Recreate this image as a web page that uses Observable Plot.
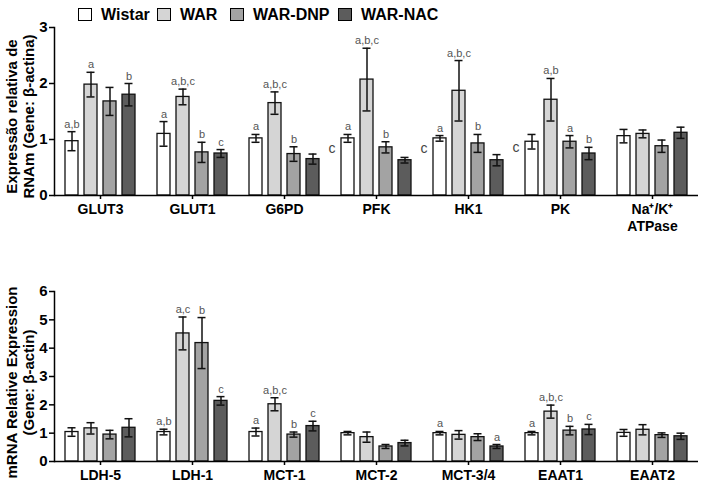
<!DOCTYPE html>
<html><head><meta charset="utf-8">
<script src="https://cdn.jsdelivr.net/npm/d3@7"></script>
<script src="https://cdn.jsdelivr.net/npm/@observablehq/plot@0.6"></script>
<style>
body{margin:0;background:#fff;font-family:"Liberation Sans",Arial,sans-serif;}
#wrap{width:708px;height:487px;position:relative;overflow:hidden;background:#fff}
#legend{height:22px;position:relative;font-weight:bold;font-size:16px;color:#000}
.item{position:absolute;top:7px;display:flex;align-items:center;height:15px;white-space:nowrap}
.sw{width:12px;height:11.5px;border:1.3px solid #000;margin-right:9px;flex:none}
svg{overflow:visible;display:block}
</style></head><body><div id="wrap"><div id="legend"></div><div id="top"></div><div id="bottom"></div></div>
<script>
// ---- shared ----
const groups = ["Wistar", "WAR", "WAR-DNP", "WAR-NAC"];
const groupColors = ["#ffffff", "#d5d5d5", "#a3a3a3", "#5c5c5c"];
const legendLeft = [78, 157, 230, 338];

// ---- top panel ----
const topGenes = ["GLUT3", "GLUT1", "G6PD", "PFK", "HK1", "PK", "Na+/K+ ATPase"];
const topTickLabels = ["GLUT3", "GLUT1", "G6PD", "PFK", "HK1", "PK", "Na\u207A/K\u207A\nATPase"];
const topWistar = [0.97, 1.10, 1.02, 1.02, 1.02, 0.96, 1.06];
const topWAR    = [1.98, 1.76, 1.65, 2.07, 1.87, 1.71, 1.10];
const topDNP    = [1.68, 0.77, 0.74, 0.86, 0.93, 0.96, 0.88];
const topNAC    = [1.80, 0.75, 0.65, 0.63, 0.63, 0.75, 1.12];
const topWistarErr = [0.17, 0.22, 0.07, 0.07, 0.05, 0.13, 0.12];
const topWARErr    = [0.22, 0.14, 0.20, 0.56, 0.54, 0.38, 0.07];
const topDNPErr    = [0.25, 0.18, 0.13, 0.10, 0.16, 0.11, 0.11];
const topNACErr    = [0.20, 0.07, 0.09, 0.05, 0.10, 0.11, 0.10];
const topWistarSig = ["a,b", "a", "a", "a", "a", "", ""];
const topWARSig    = ["a", "a,b,c", "a,b,c", "a,b,c", "a,b,c", "a,b", ""];
const topDNPSig    = ["", "b", "b", "b", "b", "a", ""];
const topNACSig    = ["b", "c", "", "", "", "b", ""];
const topStrayGenes = ["PFK", "HK1", "PK"];
const topStrayText = ["c", "c", "c"];
const topStrayLevel = [0.84, 0.84, 0.85];
const topTitle = "Expressão relativa de\nRNAm (Gene: \u03B2-actina)";
const topTicks = [0, 1, 2, 3];

// ---- bottom panel ----
const botGenes = ["LDH-5", "LDH-1", "MCT-1", "MCT-2", "MCT-3/4", "EAAT1", "EAAT2"];
const botTickLabels = ["LDH-5", "LDH-1", "MCT-1", "MCT-2", "MCT-3/4", "EAAT1", "EAAT2"];
const botWistar = [1.04, 1.04, 1.04, 1.00, 1.00, 1.00, 1.01];
const botWAR    = [1.17, 4.52, 2.02, 0.86, 0.94, 1.76, 1.12];
const botDNP    = [0.95, 4.18, 0.95, 0.53, 0.86, 1.09, 0.93];
const botNAC    = [1.19, 2.14, 1.25, 0.65, 0.53, 1.13, 0.89];
const botWistarErr = [0.15, 0.10, 0.14, 0.06, 0.06, 0.06, 0.12];
const botWARErr    = [0.20, 0.58, 0.23, 0.18, 0.15, 0.23, 0.18];
const botDNPErr    = [0.15, 0.90, 0.09, 0.07, 0.12, 0.15, 0.08];
const botNACErr    = [0.32, 0.15, 0.17, 0.10, 0.07, 0.18, 0.11];
const botWistarSig = ["", "a,b", "a", "", "a", "a", ""];
const botWARSig    = ["", "a,c", "a,b,c", "", "", "a,b,c", ""];
const botDNPSig    = ["", "b", "b", "", "", "b", ""];
const botNACSig    = ["", "c", "c", "", "a", "c", ""];
const botTitle = "mRNA Relative Expression\n(Gene: \u03B2-actin)";
const botTicks = [0, 1, 2, 3, 4, 5, 6];

// ---- legend ----
const legend = d3.select("#legend");
groups.forEach((g, i) => {
  const it = legend.append("div").attr("class", "item").style("left", legendLeft[i] + "px");
  it.append("div").attr("class", "sw").style("background", groupColors[i]);
  it.append("span").text(g);
});

function buildRows(genes, vals, errs, sigs) {
  const rows = [];
  genes.forEach((gene, i) => {
    groups.forEach((group, k) => {
      rows.push({gene, group, value: vals[k][i], err: errs[k][i], sig: sigs[k][i]});
    });
  });
  return rows;
}

function chart(o) {
  const rows = buildRows(o.genes, o.vals, o.errs, o.sigs);
  const strays = (o.strayGenes || []).map((g, i) => ({gene: g, text: o.strayText[i], level: o.strayLevel[i]}));
  return Plot.plot({
    width: 708,
    height: o.height,
    marginLeft: 52,
    marginRight: 8,
    marginTop: o.marginTop,
    marginBottom: o.marginBottom,
    style: {fontFamily: "'Liberation Sans', Arial, sans-serif", color: "#000", background: "transparent", overflow: "visible"},
    fx: {domain: o.genes, padding: 0},
    x: {domain: groups, paddingInner: 0.333, paddingOuter: 0.54, axis: null},
    y: {domain: [0, o.yMax]},
    color: {domain: groups, range: groupColors},
    marks: [
      Plot.barY(rows, {fx: "gene", x: "group", y: "value", fill: "group", stroke: "#111", strokeWidth: 1.3}),
      Plot.ruleX(rows, {fx: "gene", x: "group", y1: d => d.value - d.err, y2: d => d.value + d.err, stroke: "#111", strokeWidth: 1.5}),
      Plot.tickY(rows, {fx: "gene", x: "group", y: d => d.value + d.err, insetLeft: 2.5, insetRight: 2.5, stroke: "#111", strokeWidth: 1.5}),
      Plot.tickY(rows, {fx: "gene", x: "group", y: d => d.value - d.err, insetLeft: 2.5, insetRight: 2.5, stroke: "#111", strokeWidth: 1.5}),
      Plot.text(rows.filter(d => d.sig), {fx: "gene", x: "group", y: d => d.value + d.err, text: "sig", lineAnchor: "bottom", dy: -4, fill: "#555", fontSize: 11}),
      Plot.text(strays, {fx: "gene", x: () => groups[0], y: "level", text: "text", dx: -16, fill: "#444", fontSize: 14}),
      Plot.ruleY([0], {stroke: "#000", strokeWidth: 1.5}),
      Plot.frame({anchor: "left", facet: "super", stroke: "#000", strokeWidth: 1.5}),
      Plot.axisY({ticks: o.ticks, tickSize: 5, tickPadding: 2, tickFormat: d3.format("d"), label: null, fontSize: 15, fontWeight: "bold", strokeWidth: 1.5}),
      Plot.axisFx({anchor: "bottom", tickSize: 4, tickPadding: 2.5, label: null, fontSize: 14, fontWeight: "bold", lineHeight: 1.2, strokeWidth: 1.5,
        tickFormat: d => o.tickLabels[o.genes.indexOf(d)]}),
      Plot.text([o.title], {facet: "super", frameAnchor: "left", textAnchor: "middle", rotate: -90, dx: -34, dy: o.titleDy, lineAnchor: "middle", lineHeight: 1.13, fontSize: 15, fontWeight: "bold"})
    ]
  });
}

document.getElementById("top").append(chart({
  genes: topGenes, tickLabels: topTickLabels,
  vals: [topWistar, topWAR, topDNP, topNAC],
  errs: [topWistarErr, topWARErr, topDNPErr, topNACErr],
  sigs: [topWistarSig, topWARSig, topDNPSig, topNACSig],
  strayGenes: topStrayGenes, strayText: topStrayText, strayLevel: topStrayLevel,
  yMax: 3, ticks: topTicks, title: topTitle, titleDy: 5,
  height: 218, marginTop: 5, marginBottom: 45
}));

document.getElementById("bottom").append(chart({
  genes: botGenes, tickLabels: botTickLabels,
  vals: [botWistar, botWAR, botDNP, botNAC],
  errs: [botWistarErr, botWARErr, botDNPErr, botNACErr],
  sigs: [botWistarSig, botWARSig, botDNPSig, botNACSig],
  yMax: 6, ticks: botTicks, title: botTitle, titleDy: 6,
  height: 247, marginTop: 51, marginBottom: 26
}));
</script>
</body></html>
